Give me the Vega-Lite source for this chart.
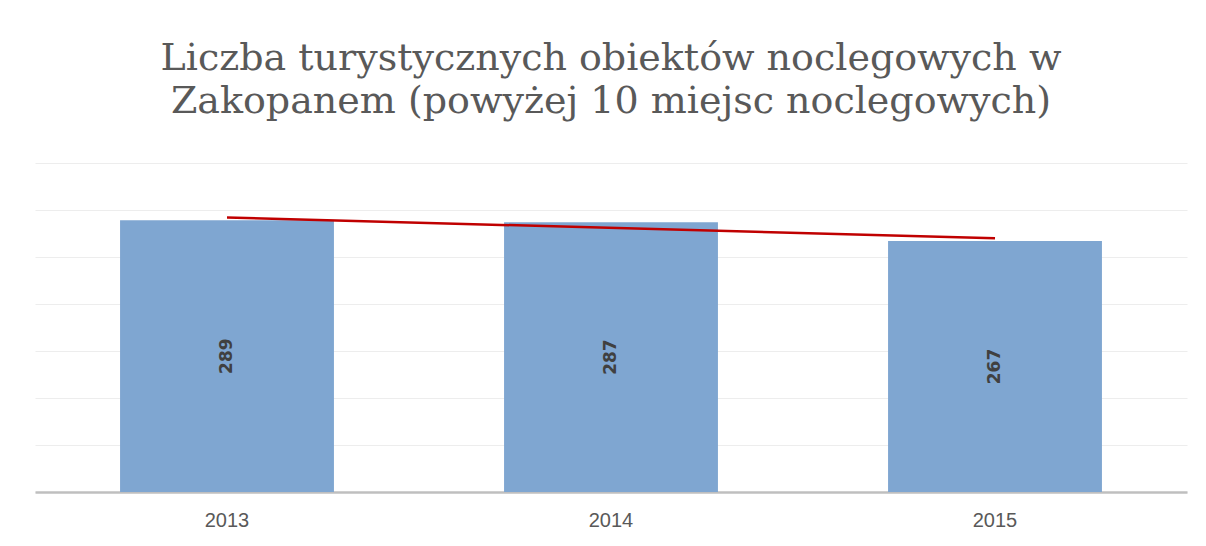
{
  "$schema": "https://vega.github.io/schema/vega-lite/v6.json",
  "autosize": {"type": "none"},
  "width": 1152,
  "height": 329,
  "padding": {"left": 35, "top": 163, "right": 19, "bottom": 54},
  "background": "white",
  "title": {
    "text": ["Liczba turystycznych obiektów noclegowych w", "Zakopanem (powyżej 10 miejsc noclegowych)"],
    "font": "DejaVu Serif",
    "fontSize": 38,
    "fontWeight": "normal",
    "color": "#595959",
    "lineHeight": 43,
    "anchor": "middle",
    "offset": 42
  },
  "data": {
    "values": [
      {"year": 2013, "value": 289},
      {"year": 2014, "value": 287},
      {"year": 2015, "value": 267}
    ]
  },
  "encoding": {
    "x": {
      "field": "year",
      "type": "nominal",
      "scale": {"paddingInner": 0.443, "paddingOuter": 0.2215},
      "axis": {
        "title": null,
        "labelAngle": 0,
        "labelFont": "Liberation Sans",
        "labelFontSize": 20,
        "labelColor": "#595959",
        "labelPadding": 18,
        "ticks": false,
        "domainColor": "#bfbfbf",
        "domainWidth": 2.5,
        "grid": false
      }
    }
  },
  "layer": [
    {
      "mark": {"type": "bar", "color": "#7fa6d1"},
      "encoding": {
        "y": {
          "field": "value",
          "type": "quantitative",
          "scale": {"domain": [0, 350], "nice": false},
          "axis": {
            "title": null,
            "values": [0, 50, 100, 150, 200, 250, 300, 350],
            "labels": false,
            "ticks": false,
            "domain": false,
            "grid": true,
            "gridColor": "#ededed",
            "gridWidth": 1
          }
        }
      }
    },
    {
      "transform": [{"regression": "value", "on": "year"}],
      "mark": {"type": "line", "color": "#c00000", "strokeWidth": 2.5},
      "encoding": {
        "y": {
          "field": "value",
          "type": "quantitative",
          "scale": {"domain": [0, 350], "nice": false},
          "axis": null
        }
      }
    },
    {
      "mark": {
        "type": "text",
        "angle": 270,
        "align": "center",
        "baseline": "middle",
        "font": "DejaVu Sans",
        "fontSize": 17,
        "fontWeight": "bold",
        "color": "#404040"
      },
      "encoding": {
        "y": {
          "field": "value",
          "type": "quantitative",
          "scale": {"domain": [0, 700], "nice": false},
          "axis": null
        },
        "text": {"field": "value", "type": "quantitative"}
      }
    }
  ],
  "resolve": {"scale": {"y": "independent"}},
  "config": {"view": {"stroke": null}}
}
